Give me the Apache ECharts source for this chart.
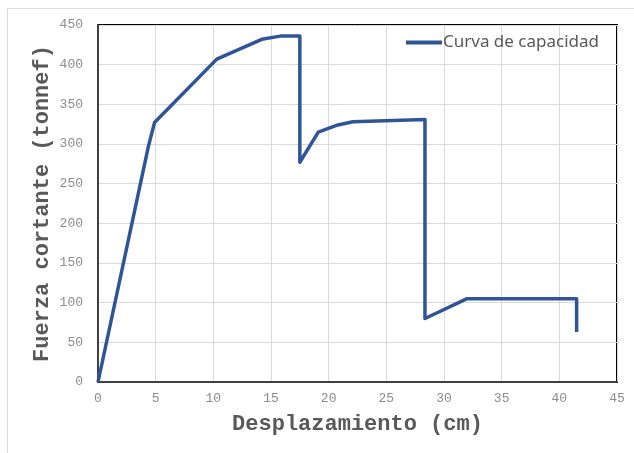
<!DOCTYPE html>
<html>
<head>
<meta charset="utf-8">
<script src="https://cdn.jsdelivr.net/npm/echarts@6/dist/echarts.min.js"></script>
<style>html,body{margin:0;padding:0;background:#fff}#c{width:634px;height:453px}</style>
</head>
<body>
<div id="c"></div>
<script>
var desplazamiento = [0, 4.37, 4.9, 10.3, 14.2, 15.8, 17.5, 17.5, 19.1, 20.8, 22.1, 28.35, 28.35, 32.0, 41.5, 41.5];
var fuerza = [0, 297, 327, 407, 432, 436, 436, 277, 315, 324, 328, 331, 80, 105, 105, 63];
var xTicks = [0, 5, 10, 15, 20, 25, 30, 35, 40, 45];
var yTicks = [0, 50, 100, 150, 200, 250, 300, 350, 400, 450];
var seriesName = 'Curva de capacidad';

var chart = echarts.init(document.getElementById('c'), null, {renderer: 'canvas'});
var pts = desplazamiento.map(function (x, i) { return [x, fuerza[i]]; });
var mono = 'Liberation Mono';
chart.setOption({
  animation: false,
  backgroundColor: '#fff',
  graphic: [{
    type: 'rect', silent: true, z: -10,
    shape: {x: 7.5, y: 8.5, width: 700, height: 600},
    style: {fill: 'none', stroke: '#d9d9d9', lineWidth: 1}
  }],
  grid: {left: 98, top: 25, right: 17, bottom: 71, show: true, borderColor: '#000', borderWidth: 2, backgroundColor: 'transparent'},
  legend: {
    data: [seriesName], right: 30, top: 29, itemWidth: 36, itemHeight: 4, itemGap: 0,
    textStyle: {fontFamily: 'Noto Sans', fontSize: 17, color: '#595959', padding: [0, 0, 0, -4]},
    icon: 'rect'
  },
  xAxis: {
    type: 'value', min: 0, max: 45, interval: 5,
    axisLine: {show: true, lineStyle: {color: '#404040', width: 2}},
    axisTick: {show: false},
    splitLine: {show: true, lineStyle: {color: '#d9d9d9', width: 1}},
    axisLabel: {fontFamily: mono, fontSize: 13, color: '#8c8c8c', margin: 10,
      formatter: function (v) { return xTicks.indexOf(v) >= 0 ? String(v) : ''; }},
    name: 'Desplazamiento (cm)', nameLocation: 'middle', nameGap: 31, nameMoveOverlap: false,
    nameTextStyle: {fontFamily: mono, fontWeight: 'bold', fontSize: 22, color: '#595959'}
  },
  yAxis: {
    type: 'value', min: 0, max: 450, interval: 50,
    axisLine: {show: true, lineStyle: {color: '#404040', width: 2}},
    axisTick: {show: false},
    splitLine: {show: true, lineStyle: {color: '#d9d9d9', width: 1}},
    axisLabel: {fontFamily: mono, fontSize: 13, color: '#8c8c8c', margin: 15,
      formatter: function (v) { return yTicks.indexOf(v) >= 0 ? String(v) : ''; }},
    name: 'Fuerza cortante (tonnef)', nameLocation: 'middle', nameGap: 45, nameRotate: 90, nameMoveOverlap: false,
    nameTextStyle: {fontFamily: mono, fontWeight: 'bold', fontSize: 22, color: '#595959'}
  },
  series: [{
    name: seriesName, type: 'line', data: pts, showSymbol: false, symbol: 'none',
    lineStyle: {color: '#2f5597', width: 3.5, join: 'round'},
    itemStyle: {color: '#2f5597'}
  }]
});
</script>
</body>
</html>
